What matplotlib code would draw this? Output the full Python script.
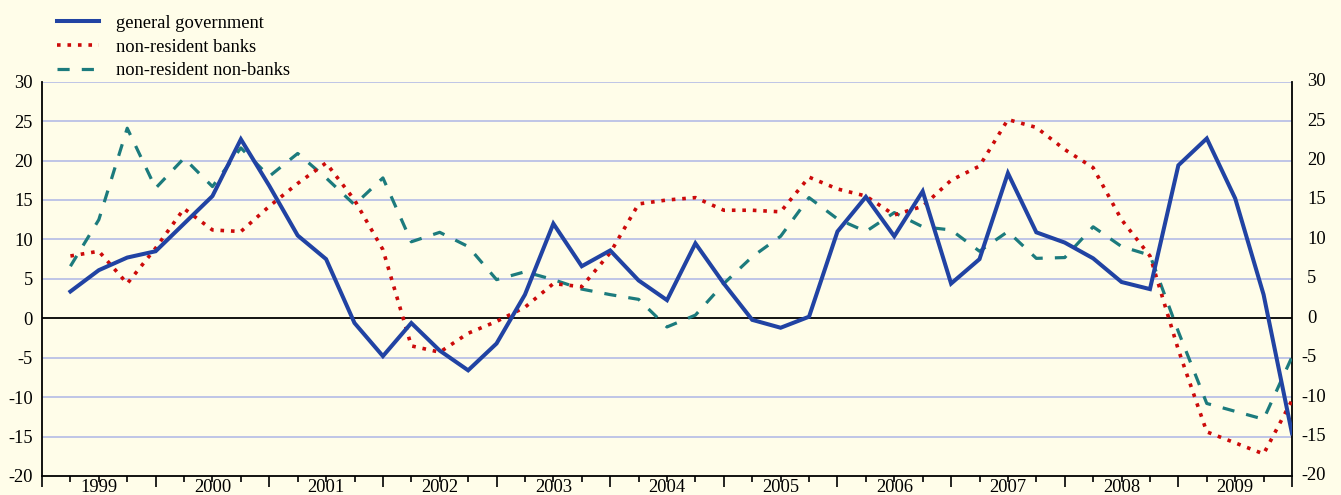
import matplotlib
matplotlib.use("Agg")
import matplotlib.pyplot as plt
import matplotlib.transforms as mtransforms
import numpy as np

plt.rcParams['font.family'] = ['Liberation Serif', 'DejaVu Serif']
plt.rcParams['axes.unicode_minus'] = False

# quarterly growth rates, 1999 Q1 .. 2009 Q4
years = [str(y) for y in range(1999, 2010)]
general_government = [
    3.4, 6.1, 7.7, 8.5, 12.0, 15.5, 22.7, 16.8, 10.5, 7.5, -0.6,
    -4.8, -0.6, -4.1, -6.6, -3.2, 3.0, 12.0, 6.6, 8.6, 4.8, 2.3,
    9.5, 4.4, -0.2, -1.2, 0.2, 11.0, 15.4, 10.4, 16.1, 4.4, 7.5,
    18.4, 10.9, 9.6, 7.6, 4.6, 3.7, 19.4, 22.8, 15.2, 3.0, -14.6,
]
nonresident_banks = [
    7.9, 8.5, 4.4, 8.9, 13.9, 11.2, 11.0, 14.2, 17.1, 19.7, 15.0,
    8.7, -3.5, -4.3, -1.9, -0.4, 1.4, 4.4, 4.0, 8.3, 14.5, 15.0,
    15.3, 13.7, 13.7, 13.5, 17.9, 16.4, 15.5, 13.1, 14.2, 17.5, 19.3,
    25.2, 24.2, 21.4, 19.1, 12.5, 7.9, -4.0, -14.4, -15.8, -17.2, -10.4,
]
nonresident_nonbanks = [
    6.6, 12.5, 24.1, 16.5, 20.3, 16.7, 21.6, 18.0, 20.9, 17.8, 14.4,
    17.8, 9.7, 10.9, 9.1, 4.9, 5.9, 4.9, 3.7, 3.0, 2.4, -1.1,
    0.4, 4.4, 7.8, 10.4, 15.3, 12.6, 11.0, 13.4, 11.6, 11.2, 8.5,
    11.0, 7.6, 7.7, 11.6, 9.1, 8.0, -1.7, -10.8, -11.8, -12.8, -4.9,
]
yticks = list(range(-20, 31, 5))

bg = '#FFFDE9'
blue = '#2143A3'
red = '#CC0A0A'
teal = '#1C7B7D'
grid = '#B4BCE6'
fs = 13.3

fig = plt.figure(figsize=(13.41, 4.95), dpi=100, facecolor=bg)
ax = fig.add_axes([42 / 1341, 1 - 476 / 495, 1250 / 1341, 394.3 / 495])
ax.set_facecolor(bg)

q = np.arange(1, len(general_government) + 1)

ax.plot(q, nonresident_nonbanks, color=teal, lw=2.3,
        linestyle=(0, (3.8, 3.8)), label='non-resident non-banks', zorder=3)
ax.plot(q, nonresident_banks, color=red, lw=2.6,
        linestyle=(0, (1, 1.9)), label='non-resident banks', zorder=4)
ax.plot(q, general_government, color=blue, lw=2.9,
        solid_joinstyle='miter', label='general government', zorder=5)

ax.set_xlim(0, 44)
ax.set_ylim(-20, 30)

# horizontal grid, black zero line
for v in yticks:
    if v == 0:
        ax.axhline(0, color='black', lw=1.3, zorder=2)
    elif v != -20:
        ax.axhline(v, color=grid, lw=1.2, zorder=1)

for side in ['left', 'right', 'bottom']:
    ax.spines[side].set_color('black')
    ax.spines[side].set_linewidth(1.3)
ax.spines['top'].set_visible(False)

# y labels: left right-aligned, right side drawn as text
ax.set_yticks(yticks)
ax.set_yticklabels([str(v) for v in yticks])
ax.tick_params(axis='y', length=0, pad=6.5, labelsize=fs)
for v in yticks:
    dx = 9 if v < 0 else 15
    t = mtransforms.offset_copy(ax.get_yaxis_transform(), fig=fig, x=dx, y=0, units='dots')
    ax.text(1.0, v, str(v), transform=t, ha='left', va='center', fontsize=fs)

# x ticks: long at year boundaries, short at quarters, year labels mid-year
ax.set_xticks(np.arange(0, 45, 4))
ax.set_xticklabels([])
minor_pos = [k for k in range(45) if k % 4 != 0]
minor_lab = [years[k // 4] if k % 4 == 2 else '' for k in minor_pos]
ax.set_xticks(minor_pos, minor=True)
ax.set_xticklabels(minor_lab, minor=True)
ax.tick_params(axis='x', which='major', length=8, width=1.2, direction='out')
ax.tick_params(axis='x', which='minor', length=4, width=1.2, direction='out',
               pad=-1.5, labelsize=fs)

handles, labels = ax.get_legend_handles_labels()
fig.legend(handles[::-1], labels[::-1], loc='upper left',
           bbox_to_anchor=(44 / 1341, 1 - 2 / 495), frameon=False,
           fontsize=fs, handlelength=2.3, handletextpad=0.9,
           labelspacing=0.36, borderpad=0.2)

fig.savefig('out.png', dpi=100, facecolor=bg)
